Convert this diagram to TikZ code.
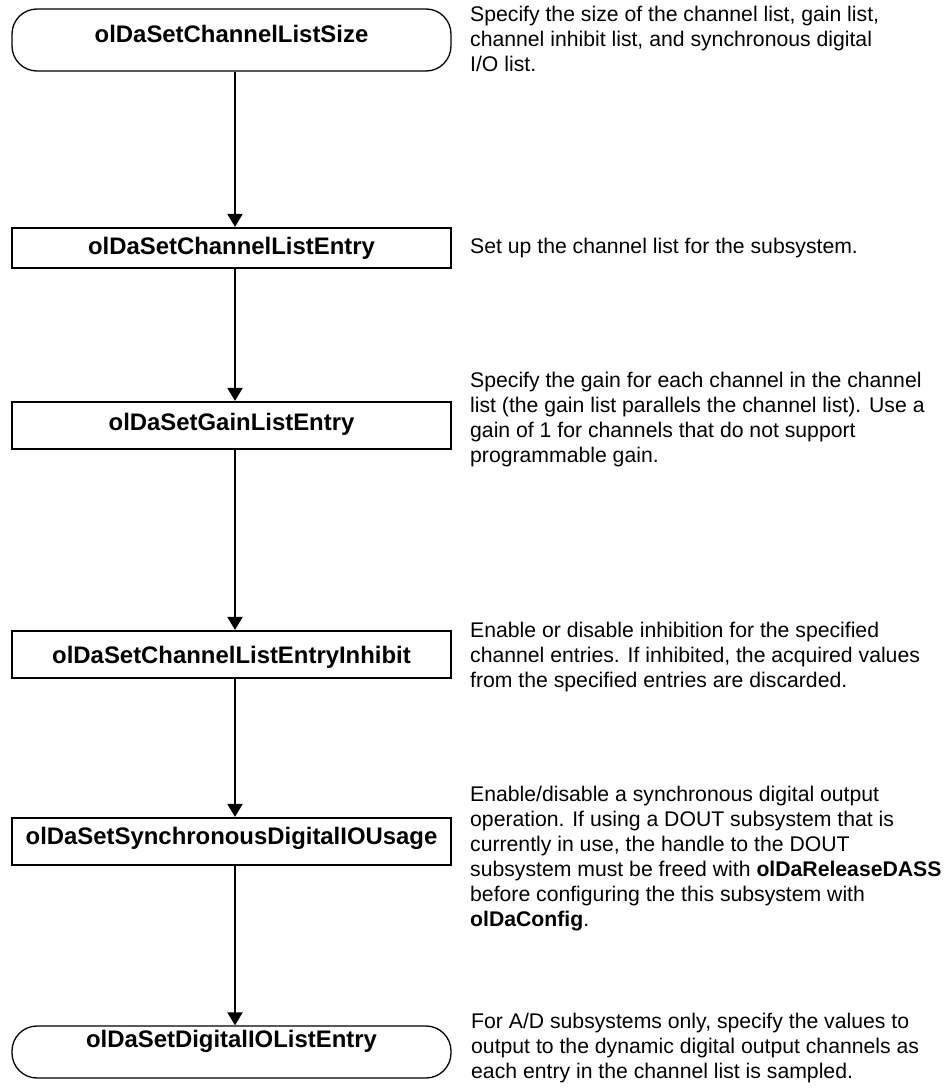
\documentclass[tikz,border=0pt]{standalone}
\usepackage{fontspec}
\setmainfont{Liberation Sans}
\usetikzlibrary{arrows.meta}
\begin{document}
\begin{tikzpicture}[x=1pt,y=-1pt]
\tikzset{
  callbox/.style={draw, line width=2.2pt, minimum width=439pt, inner sep=0pt,
    text height=17pt, font=\fontsize{23.9pt}{28pt}\selectfont\bfseries},
  termbox/.style={callbox, line width=1.3pt, rounded corners=25pt},
  note/.style={anchor=north west, inner sep=0pt, align=left,
    font=\fontsize{21.2pt}{25pt}\selectfont},
  flow/.style={line width=2pt, -{Triangle[width=15pt,length=13pt]}}
}
\path[use as bounding box] (0,0) rectangle (943,1090);

% function call sequence
\node[termbox, minimum height=62pt, text depth=13pt] (n1) at (231.5,40) {olDaSetChannelListSize};
\node[callbox, minimum height=40pt, text depth=5pt] (n2) at (231.5,248) {olDaSetChannelListEntry};
\node[callbox, minimum height=47pt, text depth=8pt] (n3) at (231.5,425.5) {olDaSetGainListEntry};
\node[callbox, minimum height=47pt, text depth=0pt] (n4) at (231.5,654.5) {olDaSetChannelListEntryInhibit};
\node[callbox, minimum height=47pt, text depth=12pt] (n5) at (231.5,841.5) {olDaSetSynchronousDigitalIOUsage};
\node[termbox, minimum height=52pt, text depth=27pt] (n6) at (231.5,1052) {olDaSetDigitalIOListEntry};

% connectors
\foreach \a/\b in {n1/n2,n2/n3,n3/n4,n4/n5,n5/n6}
  \draw[flow] ([xshift=3.5pt]\a.south) -- ([xshift=3.5pt]\b.north);

% descriptions
\node[note] (d1) at (470,6) {Specify the size of the channel list, gain list,\\
channel inhibit list, and synchronous digital\\
I/O list.};
\node[note] (d2) at (470,238) {Set up the channel list for the subsystem.};
\node[note] (d3) at (470,372) {Specify the gain for each channel in the channel\\
list (the gain list parallels the channel list). Use a\\
gain of 1 for channels that do not support\\
programmable gain.};
\node[note] (d4) at (470,622) {Enable or disable inhibition for the specified\\
channel entries. If inhibited, the acquired values\\
from the specified entries are discarded.};
\node[note] (d5) at (470,786) {Enable/disable a synchronous digital output\\
operation. If using a DOUT subsystem that is\\
currently in use, the handle to the DOUT\\
subsystem must be freed with \textbf{olDaReleaseDASS}\\
before configuring the this subsystem with\\
\textbf{olDaConfig}.};
\node[note] (d6) at (471,1013) {For A/D subsystems only, specify the values to\\
output to the dynamic digital output channels as\\
each entry in the channel list is sampled.};
\end{tikzpicture}
\end{document}
